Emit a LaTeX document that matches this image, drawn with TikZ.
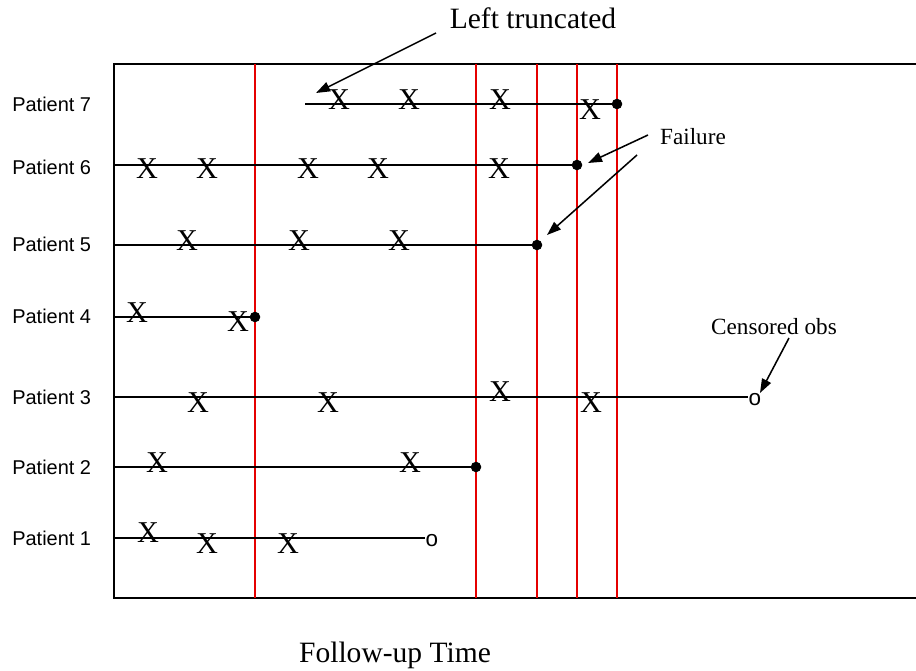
\documentclass[tikz,border=0pt]{standalone}
\usepackage{fontspec}
\setmainfont{Liberation Serif}
\newfontfamily\arialfont{Liberation Sans}
\usetikzlibrary{arrows.meta}
\tikzset{patient/.style={font=\arialfont\fontsize{14.2}{16}\selectfont, inner sep=0pt, anchor=west}}
\tikzset{event/.style={font=\fontsize{21.5}{23}\selectfont, inner sep=0pt}}
\tikzset{fail/.style={circle, fill=black, inner sep=0pt, minimum size=7.5pt}}
\tikzset{cens/.style={font=\arialfont\fontsize{16}{18}\selectfont, inner sep=0pt}}
\tikzset{tline/.style={line width=1.6pt}}
\tikzset{redline/.style={draw=red!90!black, line width=1.2pt}}
\tikzset{pointer/.style={line width=1.1pt, -{Triangle[length=10pt,width=7pt]}}}
\tikzset{note/.style={font=\fontsize{16.5}{18}\selectfont, inner sep=0pt}}
\tikzset{big/.style={font=\fontsize{21}{24}\selectfont, inner sep=0pt}}

\begin{document}
\begin{tikzpicture}[x=0.025cm, y=-0.025cm]
    \useasboundingbox (0,0) rectangle (916,671);
    % frame and time points
    \draw[line width=1.4pt] (916,64) -- (114,64) -- (114,598) -- (916,598);
    \foreach \t in {255,476,537,577,617}
        \draw[redline] (\t,64) -- (\t,598);

    % Patient 7
    \node[patient] (lab7) at (12,104) {Patient 7};
    \coordinate (s7) at (305,104);
    \node[fail] (e7) at (617,104) {};
    \draw[tline] (s7) -- (e7.center);
    \foreach \x/\y [count=\i] in {339/100, 409/100, 500/100, 590/110}
        \node[event] (x7\i) at (\x,\y) {X};

    % Patient 6
    \node[patient] (lab6) at (12,167) {Patient 6};
    \coordinate (s6) at (114,165);
    \node[fail] (e6) at (577,165) {};
    \draw[tline] (s6) -- (e6.center);
    \foreach \x/\y [count=\i] in {147/169, 207/169, 308/169, 378/169, 499/169}
        \node[event] (x6\i) at (\x,\y) {X};

    % Patient 5
    \node[patient] (lab5) at (12,244) {Patient 5};
    \coordinate (s5) at (114,245);
    \node[fail] (e5) at (537,245) {};
    \draw[tline] (s5) -- (e5.center);
    \foreach \x/\y [count=\i] in {187/241, 299/241, 399/241}
        \node[event] (x5\i) at (\x,\y) {X};

    % Patient 4
    \node[patient] (lab4) at (12,316) {Patient 4};
    \coordinate (s4) at (114,317);
    \node[fail] (e4) at (255,317) {};
    \draw[tline] (s4) -- (e4.center);
    \foreach \x/\y [count=\i] in {137/313, 238/322}
        \node[event] (x4\i) at (\x,\y) {X};

    % Patient 3
    \node[patient] (lab3) at (12,397) {Patient 3};
    \coordinate (s3) at (114,397);
    \node[cens] (e3) at (755,400) {o};
    \draw[tline] (s3) -- (e3.west |- s3);
    \foreach \x/\y [count=\i] in {198/403, 328/403, 500/392, 591/403}
        \node[event] (x3\i) at (\x,\y) {X};

    % Patient 2
    \node[patient] (lab2) at (12,467) {Patient 2};
    \coordinate (s2) at (114,467);
    \node[fail] (e2) at (476,467) {};
    \draw[tline] (s2) -- (e2.center);
    \foreach \x/\y [count=\i] in {157/463, 410/463}
        \node[event] (x2\i) at (\x,\y) {X};

    % Patient 1
    \node[patient] (lab1) at (12,538) {Patient 1};
    \coordinate (s1) at (114,538);
    \node[cens] (e1) at (432,541) {o};
    \draw[tline] (s1) -- (e1.west |- s1);
    \foreach \x/\y [count=\i] in {148/533, 207/544, 288/544}
        \node[event] (x1\i) at (\x,\y) {X};

    % annotations
    \node[big] (trunc) at (533,18) {Left truncated};
    \coordinate (trunc tail) at (436,33);
    \coordinate (trunc tip) at (316,93);
    \draw[pointer] (trunc tail) -- (trunc tip);

    \node[note] (failure) at (693,137) {Failure};
    \coordinate (fail tail a) at (648,135);
    \coordinate (fail tip a) at (588,163);
    \coordinate (fail tail b) at (637,155);
    \coordinate (fail tip b) at (547,235);
    \draw[pointer] (fail tail a) -- (fail tip a);
    \draw[pointer] (fail tail b) -- (fail tip b);

    \node[note] (censored) at (774,327) {Censored obs};
    \coordinate (cens tail) at (789,338);
    \coordinate (cens tip) at (760,393);
    \draw[pointer] (cens tail) -- (cens tip);

    \node[big] (time) at (395,655) {Follow-up Time};
\end{tikzpicture}
\end{document}
